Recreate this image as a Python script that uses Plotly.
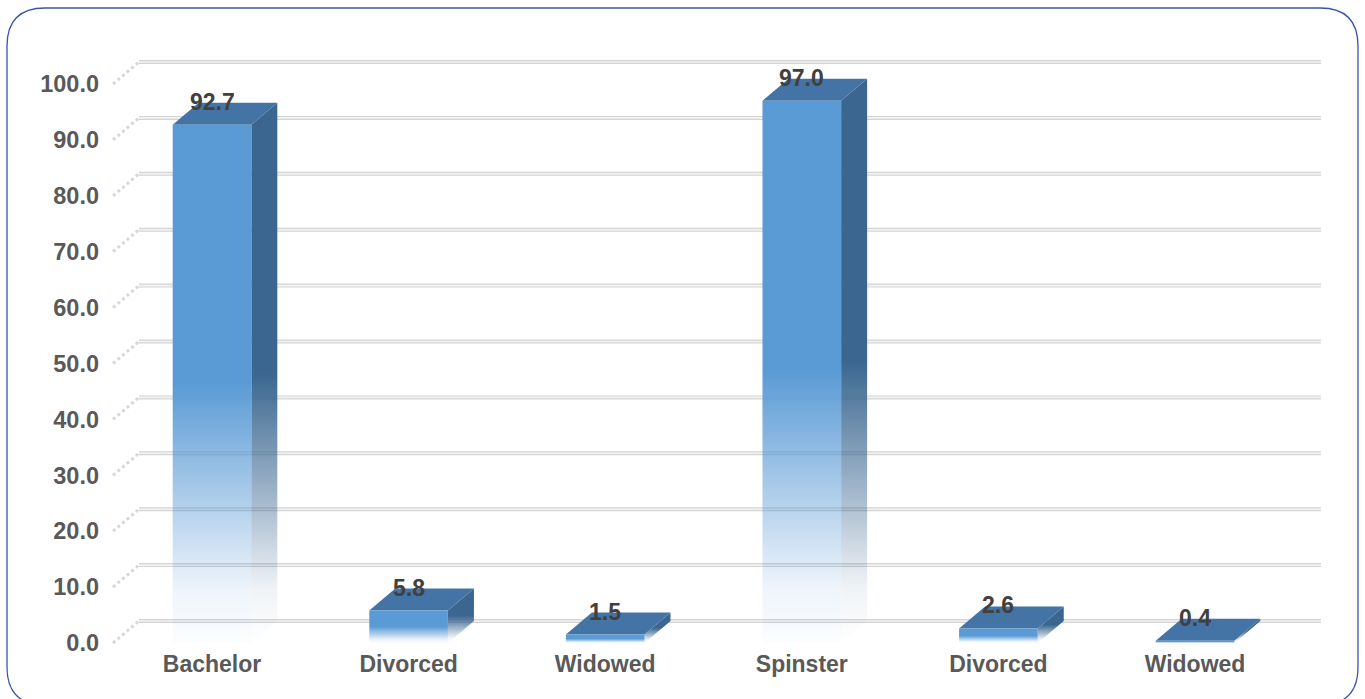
import plotly.graph_objects as go

# Marital status shares (%)
categories = ["Bachelor", "Divorced", "Widowed", "Spinster", "Divorced", "Widowed"]
values = [92.7, 5.8, 1.5, 97.0, 2.6, 0.4]
y_ticks = [0, 10, 20, 30, 40, 50, 60, 70, 80, 90, 100]
y_tick_labels = [f"{v:.1f}" for v in y_ticks]

# Canvas and plot-area geometry (pixels)
W, H = 1365, 699
L, R, T, B = 100, 1335, 40, 648
X0_PX, X_STEP_PX = 212.0, 196.6     # pixel of first category, pixels per category
Y0_PX, Y_UNIT_PX = 643.0, 5.59      # pixel of value 0 on the front plane, pixels per unit


def x_of(p):
    return (p - X0_PX) / X_STEP_PX


def y_of(p):
    return (Y0_PX - p) / Y_UNIT_PX


def paper_x(p):
    return (p - L) / (R - L)


def paper_y(p):
    return (B - p) / (B - T)


HALF_W = 0.2                      # half of the bar's front width (category units)
DX = 26.0 / X_STEP_PX             # depth offset in x
DY = 22.0 / Y_UNIT_PX             # depth offset in y

TOP = "#4473A5"
FONT = "Liberation Sans, Arial, sans-serif"

fig = go.Figure()

# 3-D bars: side face, top face and front face for each category
for i, v in enumerate(values):
    c = i
    xl, xr = c - HALF_W, c + HALF_W
    fig.add_trace(go.Scatter(
        x=[xr, xr + DX, xr + DX, xr, xr],
        y=[0, DY, v + DY, v, 0],
        mode="lines", line=dict(width=0), fill="toself",
        fillgradient=dict(type="vertical", colorscale=[
            [0.0, "rgba(58,102,144,0.0)"],
            [0.1, "rgba(58,102,144,0.08)"],
            [0.5, "rgba(58,102,144,1)"],
            [1.0, "rgba(58,102,144,1)"]]),
        hoverinfo="skip", showlegend=False))
    fig.add_trace(go.Scatter(
        x=[xl, xr, xr + DX, xl + DX, xl],
        y=[v, v, v + DY, v + DY, v],
        mode="lines", line=dict(width=0), fill="toself", fillcolor=TOP,
        hoverinfo="skip", showlegend=False))
    fig.add_trace(go.Scatter(
        x=[xl, xr, xr, xl, xl],
        y=[0, 0, v, v, 0],
        mode="lines", line=dict(width=0), fill="toself",
        fillgradient=dict(type="vertical", colorscale=[
            [0.0, "rgba(91,155,213,0.02)"],
            [0.1, "rgba(91,155,213,0.1)"],
            [0.5, "rgba(91,155,213,1)"],
            [1.0, "rgba(91,155,213,1)"]]),
        hoverinfo="skip", showlegend=False))

shapes = []
# Back-wall gridlines and the left wall's receding edges
for v in y_ticks:
    for w, col in ((4, "#D4D4D4"), (1.6, "#F3F3F3")):
        shapes.append(dict(type="line", xref="x", yref="y", layer="below",
                           x0=x_of(139), x1=x_of(1321), y0=v + DY, y1=v + DY,
                           line=dict(color=col, width=w)))
    shapes.append(dict(type="line", xref="x", yref="y", layer="below",
                       x0=x_of(113), x1=x_of(139), y0=v, y1=v + DY,
                       line=dict(color="#D8D8D8", width=3, dash="dot")))

# Rounded frame around the chart
fl, fr, ft, fb, rad = 7, 1358, 8, 705, 38
pts = [
    ("M", (fl + rad, ft)), ("L", (fr - rad, ft)), ("Q", (fr, ft), (fr, ft + rad)),
    ("L", (fr, fb - rad)), ("Q", (fr, fb), (fr - rad, fb)),
    ("L", (fl + rad, fb)), ("Q", (fl, fb), (fl, fb - rad)),
    ("L", (fl, ft + rad)), ("Q", (fl, ft), (fl + rad, ft)),
]
path = ""
for seg in pts:
    cmd = seg[0]
    coords = " ".join(f"{paper_x(p[0]):.5f},{paper_y(p[1]):.5f}" for p in seg[1:])
    path += f"{cmd}{coords} "
path += "Z"
shapes.append(dict(type="path", xref="paper", yref="paper", path=path,
                   line=dict(color="#3A55A8", width=1.3), layer="above"))

# Value labels above each bar
annotations = [
    dict(x=i, y=v + DY, xref="x", yref="y", text=f"{v:.1f}", showarrow=False,
         xanchor="center", yanchor="middle", yshift=1,
         font=dict(family=FONT, size=23, color="#404040", weight="bold"))
    for i, v in enumerate(values)
]

fig.update_layout(
    width=W, height=H,
    margin=dict(l=L, r=W - R, t=T, b=H - B),
    paper_bgcolor="white", plot_bgcolor="rgba(0,0,0,0)",
    shapes=shapes, annotations=annotations,
    showlegend=False,
    xaxis=dict(range=[x_of(L), x_of(R)], tickvals=list(range(len(categories))),
               ticktext=categories, showgrid=False, zeroline=False, showline=False,
               ticks="", tickfont=dict(family=FONT, size=23, color="#595959", weight="bold")),
    yaxis=dict(range=[y_of(B), y_of(T)], tickvals=y_ticks, ticktext=y_tick_labels,
               showgrid=False, zeroline=False, showline=False, ticks="",
               tickfont=dict(family=FONT, size=23.5, color="#595959", weight="bold")),
)

fig.write_html("out.html")
